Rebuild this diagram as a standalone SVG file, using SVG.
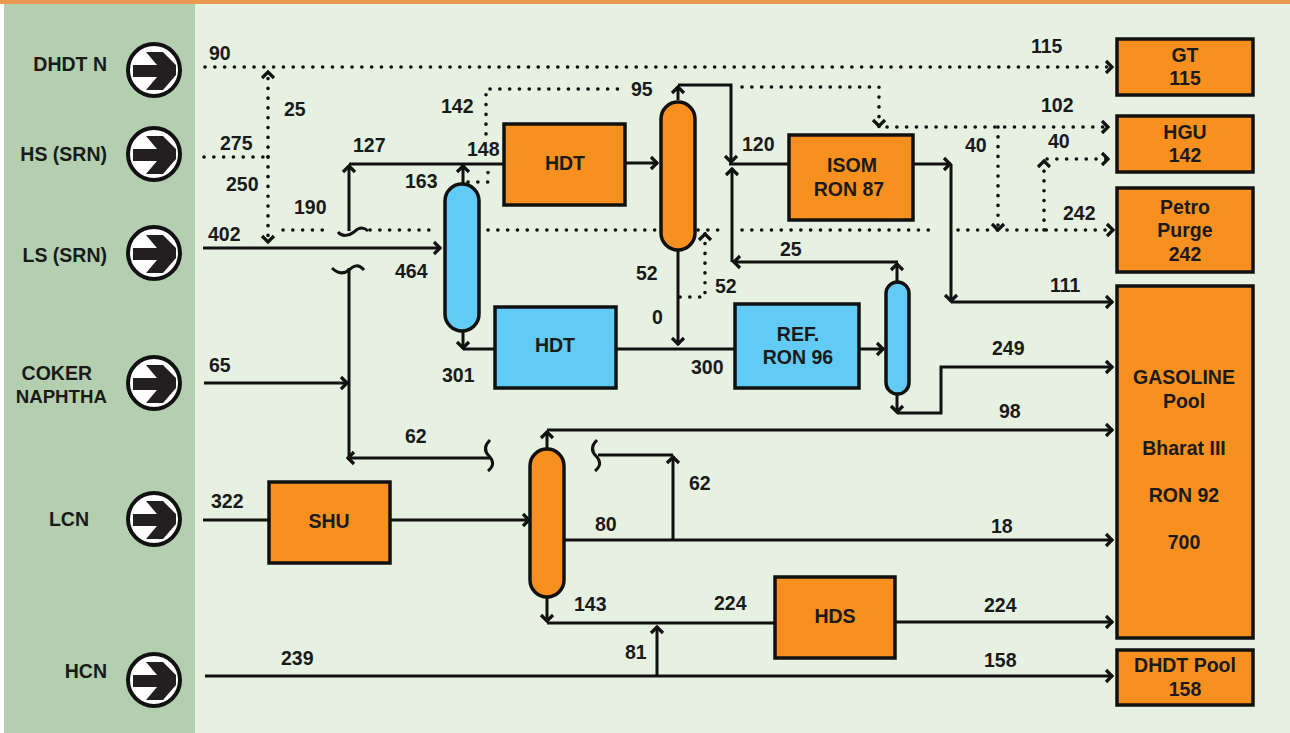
<svg xmlns="http://www.w3.org/2000/svg" width="1290" height="733" viewBox="0 0 1290 733">
<style>
text{font-family:"Liberation Sans",Arial,sans-serif;font-weight:700;font-size:19.5px;fill:#1a1a1a}
.m{text-anchor:middle}
.e{text-anchor:end}
.o{fill:#f7901e;stroke:#111;stroke-width:3.5}
.b{fill:#62cbf5;stroke:#111;stroke-width:3.5}
.s,.d{fill:none;stroke:#111;stroke-width:3}
.d{stroke-width:3.6;stroke-dasharray:.1 9.7;stroke-linecap:round}
.a{marker-end:url(#h)}
.c{fill:#fff;stroke:#111;stroke-width:4}
.g{fill:#231f20}
</style>
<defs>
<marker id="h" markerUnits="userSpaceOnUse" markerWidth="18" markerHeight="18" refX="12" refY="9" orient="auto" overflow="visible"><path d="M5 3L11 9L5 15" fill="none" stroke="#111" stroke-width="3.2"/></marker>
<g id="arrow"><circle class="c" r="26"/><path class="g" d="M-21-5H3L-8-18H9L22-5V5L9 20H-8L3 7H-21Z"/></g>
</defs>
<rect width="1290" height="733" fill="#fff"/>
<rect x="4" y="4" width="191" height="729" fill="#b3cfb0"/>
<rect x="195" y="4" width="1095" height="729" fill="#e6f1e2"/>
<rect width="1290" height="4" fill="#e8984f"/>
<g id="connectors">
<path class="d a" d="M205 67H1113"/>
<path class="d a" d="M268 157V71"/>
<path class="d a" d="M268 157V243"/>
<path class="d" d="M204 157H268"/>
<path class="d" d="M283 230H326M370 230H434M488 230H655M698 230H722M742 230H934"/>
<path class="d a" d="M958 230H1114"/>
<path class="d" d="M468 182H488V170"/>
<path class="d" d="M486 134V89H625"/>
<path class="d a" d="M742 87H879V127"/>
<path class="d a" d="M887 127H1109"/>
<path class="d a" d="M998 127V231"/>
<path class="d a" d="M1044 230V160"/>
<path class="d a" d="M1047 159H1109"/>
<path class="d a" d="M680 297H705V233"/>
<path class="s a" d="M203 248H441"/>
<path class="s a" d="M349 231V165"/>
<path class="s" d="M349 164H504"/>
<path class="s a" d="M463 183V165"/>
<path class="s a" d="M626 163H658"/>
<path class="s a" d="M678 100V86"/>
<path class="s a" d="M678 85H731V163"/>
<path class="s" d="M729 164H789"/>
<path class="s a" d="M732 262V168"/>
<path class="s a" d="M898 262H733"/>
<path class="s a" d="M897 282V263"/>
<path class="s a" d="M914 164H951"/>
<path class="s a" d="M951 164V302"/>
<path class="s a" d="M951 302H1113"/>
<path class="s a" d="M678 250V345"/>
<path class="s a" d="M463 332V349"/>
<path class="s" d="M463 349H494M617 349H735"/>
<path class="s a" d="M860 349H884"/>
<path class="s a" d="M897 395V413"/>
<path class="s a" d="M897 413H941V367H1113"/>
<path class="s a" d="M204 383H348"/>
<path class="s" d="M349 268V458"/>
<path class="s a" d="M491 458H347"/>
<path class="s a" d="M673 540V456"/>
<path class="s" d="M598 455H673"/>
<path class="s a" d="M565 540H1113"/>
<path class="s a" d="M547 448V431"/>
<path class="s a" d="M547 430H1113"/>
<path class="s a" d="M391 520H530"/>
<path class="s" d="M203 520H268"/>
<path class="s a" d="M547 597V622"/>
<path class="s" d="M547 623H775"/>
<path class="s a" d="M896 622H1113"/>
<path class="s a" d="M657 676V626"/>
<path class="s a" d="M205 676H1113"/>
<path class="s" d="M338 232C342 237 349 236 354 232C359 227 364 227 368 231"/>
<path class="s" d="M332 268C338 274 344 274 349 270C354 265 359 264 364 270"/>
<path class="s" d="M490 440C484 446 484 451 489 456C494 461 494 466 488 471"/>
<path class="s" d="M597 440C591 446 591 451 596 456C601 461 601 466 595 471"/>
</g>
<g id="in-dhdt"><text class="e" x="107" y="71">DHDT N</text><use href="#arrow" x="154" y="70"/></g>
<g id="in-hs"><text class="e" x="107" y="161">HS (SRN)</text><use href="#arrow" x="154" y="154"/></g>
<g id="in-ls"><text class="e" x="107" y="262">LS (SRN)</text><use href="#arrow" x="154" y="253"/></g>
<g id="in-coker"><text class="e" x="92" y="380">COKER</text><text class="e" x="107" y="403" style="font-size:18.7px">NAPHTHA</text><use href="#arrow" x="154" y="383"/></g>
<g id="in-lcn"><text class="e" x="89" y="526">LCN</text><use href="#arrow" x="154" y="519"/></g>
<g id="in-hcn"><text class="e" x="107" y="678">HCN</text><use href="#arrow" x="154" y="680"/></g>
<g id="col1"><rect class="b" x="445" y="184" width="34" height="147" rx="17"/></g>
<g id="col2"><rect class="o" x="661" y="102" width="34" height="148" rx="17"/></g>
<g id="col3"><rect class="b" x="886" y="282" width="23" height="112" rx="11.5"/></g>
<g id="col4"><rect class="o" x="530" y="449" width="34" height="148" rx="17"/></g>
<g id="hdt1"><rect class="o" x="504" y="124" width="121" height="81"/><text class="m" x="565" y="170">HDT</text></g>
<g id="isom"><rect class="o" x="789" y="135" width="124" height="85"/><text class="m" x="852" y="172">ISOM</text><text class="m" x="849" y="196">RON 87</text></g>
<g id="hdt2"><rect class="b" x="495" y="307" width="121" height="81"/><text class="m" x="555" y="352">HDT</text></g>
<g id="ref"><rect class="b" x="735" y="304" width="124" height="84"/><text class="m" x="798" y="341">REF.</text><text class="m" x="798" y="364">RON 96</text></g>
<g id="shu"><rect class="o" x="269" y="482" width="121" height="81"/><text class="m" x="329" y="528">SHU</text></g>
<g id="hds"><rect class="o" x="775" y="577" width="120" height="81"/><text class="m" x="835" y="623">HDS</text></g>
<g id="gt"><rect class="o" x="1117" y="39" width="136" height="56"/><text class="m" x="1185" y="62">GT</text><text class="m" x="1185" y="85">115</text></g>
<g id="hgu"><rect class="o" x="1117" y="116" width="136" height="56"/><text class="m" x="1185" y="139">HGU</text><text class="m" x="1185" y="162">142</text></g>
<g id="petro"><rect class="o" x="1117" y="188" width="136" height="84"/><text class="m" x="1185" y="214">Petro</text><text class="m" x="1185" y="237">Purge</text><text class="m" x="1185" y="261">242</text></g>
<g id="gasoline"><rect class="o" x="1117" y="286" width="136" height="352"/><text class="m" x="1184" y="384">GASOLINE</text><text class="m" x="1184" y="408">Pool</text><text class="m" x="1184" y="455">Bharat III</text><text class="m" x="1184" y="502">RON 92</text><text class="m" x="1184" y="549">700</text></g>
<g id="dhdtpool"><rect class="o" x="1117" y="650" width="136" height="55"/><text class="m" x="1185" y="672">DHDT Pool</text><text class="m" x="1185" y="696">158</text></g>
<g id="labels">
<text x="209" y="60">90</text><text x="1031" y="53">115</text><text x="284" y="116">25</text>
<text x="220" y="150">275</text><text x="226" y="191">250</text><text x="294" y="214">190</text><text x="208" y="241">402</text>
<text x="353" y="152">127</text><text x="441" y="113">142</text><text x="467" y="156">148</text><text x="405" y="188">163</text><text x="395" y="278">464</text>
<text x="631" y="96">95</text><text x="742" y="151">120</text><text x="965" y="152">40</text><text x="1041" y="112">102</text><text x="1048" y="148">40</text><text x="1063" y="220">242</text>
<text x="636" y="280">52</text><text x="715" y="293">52</text><text x="652" y="324">0</text><text x="780" y="256">25</text><text x="1050" y="292">111</text>
<text x="442" y="382">301</text><text x="691" y="374">300</text><text x="992" y="355">249</text><text x="999" y="418">98</text><text x="209" y="372">65</text>
<text x="405" y="443">62</text><text x="689" y="490">62</text><text x="595" y="531">80</text><text x="991" y="533">18</text><text x="211" y="508">322</text>
<text x="574" y="611">143</text><text x="714" y="610">224</text><text x="984" y="612">224</text><text x="625" y="659">81</text><text x="281" y="665">239</text><text x="984" y="667">158</text>
</g>
</svg>
